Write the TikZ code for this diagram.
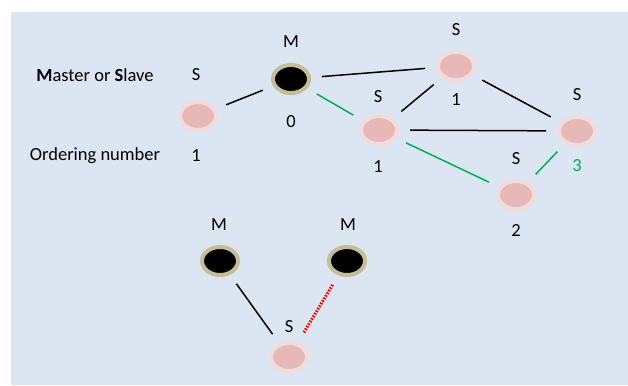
\documentclass[tikz,border=0pt]{standalone}
\usepackage{fontspec}
\setmainfont{Carlito}
\usetikzlibrary{shapes.geometric}
\definecolor{bgblue}{HTML}{DCE6F2}
\definecolor{slaveout}{HTML}{F2DCDB}
\definecolor{slavein}{HTML}{E6B9B8}
\definecolor{masterring}{HTML}{C4BD97}
\definecolor{linkgreen}{HTML}{00B050}
\tikzset{
  slave/.style={ellipse, fill=slavein, draw=slaveout, line width=4pt, minimum width=36pt, minimum height=28pt, inner sep=0pt},
  master/.style={ellipse, fill=black, draw=masterring, line width=4pt, minimum width=36pt, minimum height=28pt, inner sep=0pt},
  lbl/.style={font=\fontsize{18.5}{22}\selectfont, inner sep=0pt, text=black},
  link/.style={line width=1.5pt, shorten <=11pt, shorten >=11pt},
  greenlink/.style={link, draw=linkgreen},
  redlink/.style={line width=3pt, draw=red, dash pattern=on 1.6pt off 1.4pt, shorten <=11pt, shorten >=11pt}
}
\begin{document}
\begin{tikzpicture}[x=1pt,y=-1pt]
\useasboundingbox (0,0) rectangle (628,385);
\fill[bgblue] (11,12) rectangle (628,385);
% legend
\node[lbl] (legms) at (95,75) {\textbf{M}aster or \textbf{S}lave};
\node[lbl] (legon) at (95,156) {Ordering number};
% nodes
\node[slave] (s0) at (198,116) {};
\node[lbl] (s0t) at (196,75) {S};
\node[lbl] (s0n) at (196,156) {1};
\node[master] (m0) at (291,79) {};
\node[lbl] (m0t) at (291,42) {M};
\node[lbl] (m0n) at (291,122) {0};
\node[slave] (s1) at (456,66) {};
\node[lbl] (s1t) at (456,30) {S};
\node[lbl] (s1n) at (456,100) {1};
\node[slave] (s2) at (379,130) {};
\node[lbl] (s2t) at (378,97) {S};
\node[lbl] (s2n) at (378,167) {1};
\node[slave] (s3) at (577,131) {};
\node[lbl] (s3t) at (577,95) {S};
\node[lbl, text=linkgreen] (s3n) at (577,166) {3};
\node[slave] (s4) at (516,195) {};
\node[lbl] (s4t) at (516,159) {S};
\node[lbl] (s4n) at (516,230) {2};
\node[master] (m1) at (220,261) {};
\node[lbl] (m1t) at (219,225) {M};
\node[master] (m2) at (347,261) {};
\node[lbl] (m2t) at (348,225) {M};
\node[slave] (s5) at (289,357) {};
\node[lbl] (s5t) at (289,327) {S};
% links
\draw[link] (s0) -- (m0);
\draw[link] (m0) -- (s1);
\draw[greenlink] (m0) -- (s2);
\draw[link] (s2) -- (s1);
\draw[link] (s1) -- (s3);
\draw[link] (s2) -- (s3);
\draw[greenlink] (s2) -- (s4);
\draw[greenlink] (s4) -- (s3);
\draw[link] (m1) -- (s5);
\draw[redlink] (m2) -- (s5);
\end{tikzpicture}
\end{document}
